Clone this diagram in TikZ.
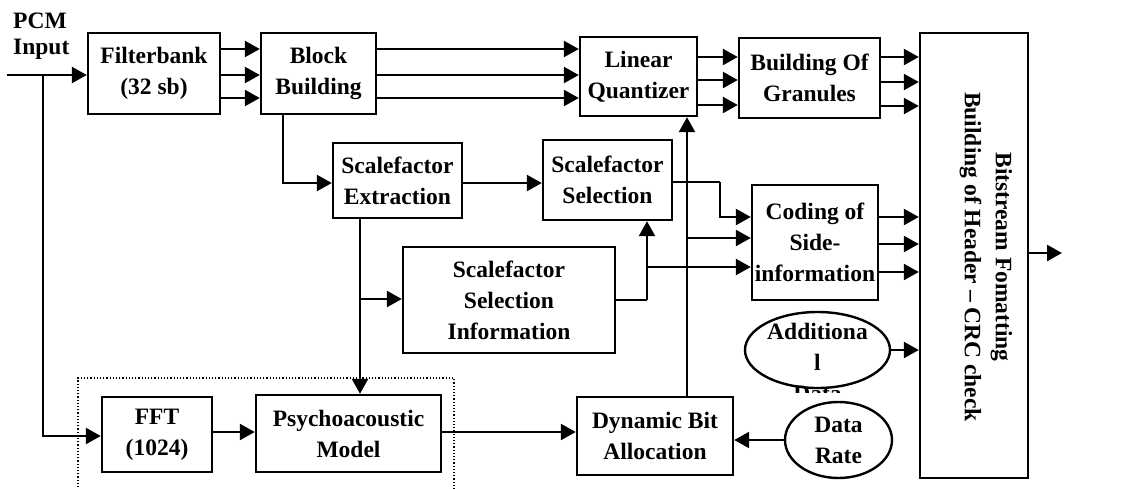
\documentclass[tikz,border=0pt]{standalone}
\usepackage{fontspec}
\setmainfont{Liberation Serif}
\usetikzlibrary{arrows.meta,shapes.geometric}
\begin{document}
\begin{tikzpicture}[x=1pt,y=-1pt,
  every node/.style={font=\bfseries\fontsize{23.5}{31}\selectfont},
  blk/.style={draw,line width=2.4pt,rectangle,align=center,inner sep=0pt},
  ell/.style={draw,line width=2.4pt,ellipse,inner sep=0pt},
  ln/.style={line width=2.4pt},
  ar/.style={line width=2.4pt,-{Triangle[length=15pt,width=16pt]}}]
\useasboundingbox (0,0) rectangle (1121,488);
% dotted group
\draw[dotted,line width=1.2pt] (78,500) -- (78,378) -- (454,378) -- (454,500);
% blocks
\node[blk,minimum width=132pt,minimum height=81pt] (fb) at (154,73.5) {Filterbank\\(32 sb)};
\node[blk,minimum width=115pt,minimum height=81pt] (bb) at (318.5,73.5) {Block\\Building};
\node[blk,minimum width=117pt,minimum height=79pt] (lq) at (638.5,76.5) {Linear\\Quantizer};
\node[blk,minimum width=141pt,minimum height=80pt] (bog) at (809.5,78) {Building Of\\Granules};
\node[blk,minimum width=108pt,minimum height=445pt] (bs) at (974,255.5) {};
\node[rotate=-90,align=center] (bstxt) at (986,257) {Bitstream Fomatting\\Building of Header -- CRC check};
\node[blk,minimum width=129pt,minimum height=75pt] (sfe) at (397.5,180.5) {Scalefactor\\Extraction};
\node[blk,minimum width=129pt,minimum height=80pt] (sfs) at (607.5,180) {Scalefactor\\Selection};
\node[blk,minimum width=212pt,minimum height=106pt] (ssi) at (509,300) {Scalefactor\\Selection\\Information};
\node[blk,minimum width=126pt,minimum height=115pt] (cod) at (815,242.5) {Coding of\\Side-\\information};
\node[ell,minimum width=145pt,minimum height=76pt] (add) at (817.5,350) {};
\begin{scope}
\clip (700,300) rectangle (950,392);
\node[align=center] (addtxt) at (817.5,362) {Additiona\\l\\Data};
\end{scope}
\node[blk,minimum width=110pt,minimum height=75pt] (fft) at (157,434.5) {FFT\\(1024)};
\node[blk,minimum width=185pt,minimum height=77pt] (pm) at (348.5,433.5) {Psychoacoustic\\Model};
\node[blk,minimum width=156pt,minimum height=78pt] (dba) at (655,436) {Dynamic Bit\\Allocation};
\node[ell,minimum width=107pt,minimum height=76pt,align=center] (dr) at (838.5,440) {Data\\Rate};
% input
\node[align=left,anchor=west,inner sep=0pt] (pcm) at (13,36) {PCM\\[-5pt]Input};
\coordinate (in) at (7,75);
\coordinate (j1) at (43,75);
\draw[ar] (in) -- (fb.west |- in);
\draw[ar] (j1) |- (fft.west |- 0,436);
% filterbank -> block building -> quantizer
\foreach \yy in {49,75,98} {
  \draw[ar] (fb.east |- 0,\yy) -- (bb.west |- 0,\yy);
  \draw[ar] (bb.east |- 0,\yy) -- (lq.west |- 0,\yy);
}
\foreach \yy in {57,80,105} {
  \draw[ar] (lq.east |- 0,\yy) -- (bog.west |- 0,\yy);
}
\foreach \yy in {57,82,106} {
  \draw[ar] (bog.east |- 0,\yy) -- (bs.west |- 0,\yy);
}
% block building -> scalefactor extraction
\coordinate (b1) at (283,114);
\draw[ar] (b1) |- (sfe.west |- 0,183);
\draw[ar] (sfe.east |- 0,183) -- (sfs.west |- 0,183);
% sfe -> psychoacoustic & ssi
\coordinate (s1) at (360,218);
\coordinate (s2) at (360,299);
\draw[ar] (s1) -- (pm.north -| s1);
\draw[ar] (s2) -- (ssi.west |- s2);
% ssi -> sfs, coding
\coordinate (k1) at (647,300);
\coordinate (k2) at (647,267);
\draw[ln] (ssi.east |- k1) -- (k1);
\draw[ar] (k1) -- (sfs.south -| k1);
\draw[ar] (k2) -- (cod.west |- k2);
% sfs -> coding
\coordinate (m1) at (720,182);
\draw[ln] (sfs.east |- m1) -- (m1);
\draw[ar] (m1) |- (cod.west |- 0,217);
% dba -> lq and coding
\coordinate (d1) at (687,397);
\coordinate (d2) at (687,238);
\draw[ar] (d1) -- (lq.south -| d1);
\draw[ar] (d2) -- (cod.west |- d2);
% coding -> bitstream
\foreach \yy in {217,244,272} {
  \draw[ar] (cod.east |- 0,\yy) -- (bs.west |- 0,\yy);
}
\draw[ar] (add.east) -- (bs.west |- add.east);
\coordinate (out) at (1062,253);
\draw[ar] (bs.east |- out) -- (out);
% bottom row
\draw[ar] (fft.east |- 0,432) -- (pm.west |- 0,432);
\draw[ar] (pm.east |- 0,432) -- (dba.west |- 0,432);
\draw[ar] (dr.west) -- (dba.east |- dr.west);
\end{tikzpicture}
\end{document}
